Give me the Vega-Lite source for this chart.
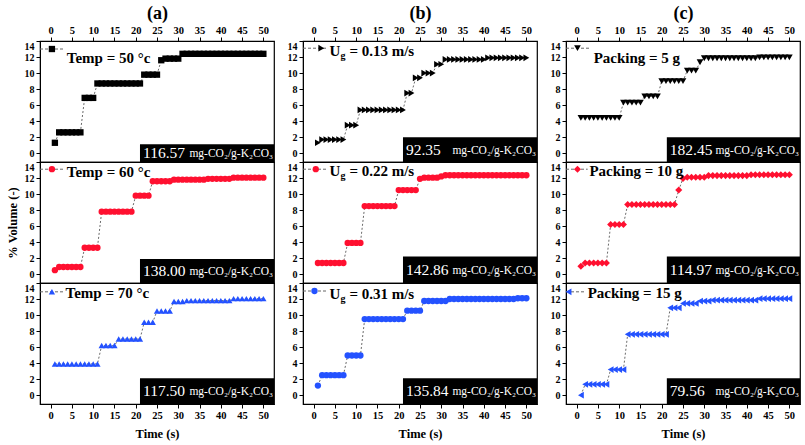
{
"$schema":"https://vega.github.io/schema/vega-lite/v6.json",
"padding":{"left":5,"top":3,"right":0,"bottom":0},
"background":"#ffffff",
"config":{"font":"Liberation Serif","view":{"stroke":"#000","strokeWidth":1.2},
"axis":{"labelFont":"Liberation Serif","labelFontWeight":"bold","labelFontSize":10.5,"labelColor":"#000","labelOverlap":false,"titleFont":"Liberation Serif","titleFontWeight":"bold","titleFontSize":12.5,"titleColor":"#000","tickColor":"#000","domainColor":"#000","grid":false,"tickSize":4,"labelPadding":2},
"axisX":{"tickCount":11},"axisY":{"tickCount":8,"labelFlush":true,"labelFontSize":10}},
"datasets":{
"a1":[{"t":1,"v":1.3},{"t":2,"v":2.6},{"t":3,"v":2.6},{"t":4,"v":2.6},{"t":5,"v":2.6},{"t":6,"v":2.6},{"t":7,"v":2.6},{"t":8,"v":6.9},{"t":9,"v":6.9},{"t":10,"v":6.9},{"t":11,"v":8.7},{"t":12,"v":8.7},{"t":13,"v":8.7},{"t":14,"v":8.7},{"t":15,"v":8.7},{"t":16,"v":8.7},{"t":17,"v":8.7},{"t":18,"v":8.7},{"t":19,"v":8.7},{"t":20,"v":8.7},{"t":21,"v":8.7},{"t":22,"v":9.8},{"t":23,"v":9.8},{"t":24,"v":9.8},{"t":25,"v":9.8},{"t":26,"v":11.6},{"t":27,"v":11.8},{"t":28,"v":11.8},{"t":29,"v":11.8},{"t":30,"v":11.8},{"t":31,"v":12.4},{"t":32,"v":12.4},{"t":33,"v":12.4},{"t":34,"v":12.4},{"t":35,"v":12.4},{"t":36,"v":12.4},{"t":37,"v":12.4},{"t":38,"v":12.4},{"t":39,"v":12.4},{"t":40,"v":12.4},{"t":41,"v":12.4},{"t":42,"v":12.4},{"t":43,"v":12.4},{"t":44,"v":12.4},{"t":45,"v":12.4},{"t":46,"v":12.4},{"t":47,"v":12.4},{"t":48,"v":12.4},{"t":49,"v":12.4},{"t":50,"v":12.4}],
"a2":[{"t":1,"v":0.5},{"t":2,"v":0.9},{"t":3,"v":0.9},{"t":4,"v":0.9},{"t":5,"v":0.9},{"t":6,"v":0.9},{"t":7,"v":0.9},{"t":8,"v":3.3},{"t":9,"v":3.3},{"t":10,"v":3.3},{"t":11,"v":3.3},{"t":12,"v":7.8},{"t":13,"v":7.8},{"t":14,"v":7.8},{"t":15,"v":7.8},{"t":16,"v":7.8},{"t":17,"v":7.8},{"t":18,"v":7.8},{"t":19,"v":7.8},{"t":20,"v":9.8},{"t":21,"v":9.8},{"t":22,"v":9.8},{"t":23,"v":9.8},{"t":24,"v":11.6},{"t":25,"v":11.6},{"t":26,"v":11.6},{"t":27,"v":11.6},{"t":28,"v":11.6},{"t":29,"v":11.8},{"t":30,"v":11.8},{"t":31,"v":11.8},{"t":32,"v":11.8},{"t":33,"v":11.8},{"t":34,"v":11.8},{"t":35,"v":11.8},{"t":36,"v":11.8},{"t":37,"v":11.9},{"t":38,"v":11.9},{"t":39,"v":11.9},{"t":40,"v":11.9},{"t":41,"v":11.9},{"t":42,"v":11.9},{"t":43,"v":12.05},{"t":44,"v":12.05},{"t":45,"v":12.05},{"t":46,"v":12.05},{"t":47,"v":12.05},{"t":48,"v":12.05},{"t":49,"v":12.05},{"t":50,"v":12.05}],
"a3":[{"t":1,"v":3.9},{"t":2,"v":3.9},{"t":3,"v":3.9},{"t":4,"v":3.9},{"t":5,"v":3.9},{"t":6,"v":3.9},{"t":7,"v":3.9},{"t":8,"v":3.9},{"t":9,"v":3.9},{"t":10,"v":3.9},{"t":11,"v":3.9},{"t":12,"v":6.2},{"t":13,"v":6.2},{"t":14,"v":6.2},{"t":15,"v":6.2},{"t":16,"v":7.0},{"t":17,"v":7.0},{"t":18,"v":7.0},{"t":19,"v":7.0},{"t":20,"v":7.0},{"t":21,"v":7.0},{"t":22,"v":9.1},{"t":23,"v":9.1},{"t":24,"v":9.1},{"t":25,"v":10.5},{"t":26,"v":10.5},{"t":27,"v":10.5},{"t":28,"v":10.5},{"t":29,"v":11.7},{"t":30,"v":11.7},{"t":31,"v":11.7},{"t":32,"v":11.8},{"t":33,"v":11.8},{"t":34,"v":11.8},{"t":35,"v":11.8},{"t":36,"v":11.8},{"t":37,"v":11.8},{"t":38,"v":11.8},{"t":39,"v":11.8},{"t":40,"v":11.8},{"t":41,"v":11.8},{"t":42,"v":11.8},{"t":43,"v":12.05},{"t":44,"v":12.05},{"t":45,"v":12.05},{"t":46,"v":12.05},{"t":47,"v":12.05},{"t":48,"v":12.05},{"t":49,"v":12.05},{"t":50,"v":12.05}],
"b1":[{"t":1,"v":1.3},{"t":2,"v":1.7},{"t":3,"v":1.7},{"t":4,"v":1.7},{"t":5,"v":1.7},{"t":6,"v":1.7},{"t":7,"v":1.7},{"t":8,"v":3.5},{"t":9,"v":3.5},{"t":10,"v":3.5},{"t":11,"v":5.4},{"t":12,"v":5.4},{"t":13,"v":5.4},{"t":14,"v":5.4},{"t":15,"v":5.4},{"t":16,"v":5.4},{"t":17,"v":5.4},{"t":18,"v":5.4},{"t":19,"v":5.4},{"t":20,"v":5.4},{"t":21,"v":5.4},{"t":22,"v":7.5},{"t":23,"v":7.5},{"t":24,"v":9.4},{"t":25,"v":9.4},{"t":26,"v":10.0},{"t":27,"v":10.0},{"t":28,"v":10.0},{"t":29,"v":11.1},{"t":30,"v":11.1},{"t":31,"v":11.7},{"t":32,"v":11.7},{"t":33,"v":11.7},{"t":34,"v":11.7},{"t":35,"v":11.7},{"t":36,"v":11.7},{"t":37,"v":11.7},{"t":38,"v":11.7},{"t":39,"v":11.7},{"t":40,"v":11.7},{"t":41,"v":11.9},{"t":42,"v":11.9},{"t":43,"v":11.9},{"t":44,"v":11.9},{"t":45,"v":11.9},{"t":46,"v":11.9},{"t":47,"v":11.9},{"t":48,"v":11.9},{"t":49,"v":11.9},{"t":50,"v":11.9}],
"b2":[{"t":1,"v":1.4},{"t":2,"v":1.4},{"t":3,"v":1.4},{"t":4,"v":1.4},{"t":5,"v":1.4},{"t":6,"v":1.4},{"t":7,"v":1.4},{"t":8,"v":3.9},{"t":9,"v":3.9},{"t":10,"v":3.9},{"t":11,"v":3.9},{"t":12,"v":8.5},{"t":13,"v":8.5},{"t":14,"v":8.5},{"t":15,"v":8.5},{"t":16,"v":8.5},{"t":17,"v":8.5},{"t":18,"v":8.5},{"t":19,"v":8.5},{"t":20,"v":10.5},{"t":21,"v":10.5},{"t":22,"v":10.5},{"t":23,"v":10.5},{"t":24,"v":10.5},{"t":25,"v":11.9},{"t":26,"v":12.05},{"t":27,"v":12.05},{"t":28,"v":12.05},{"t":29,"v":12.05},{"t":30,"v":12.2},{"t":31,"v":12.35},{"t":32,"v":12.35},{"t":33,"v":12.35},{"t":34,"v":12.35},{"t":35,"v":12.35},{"t":36,"v":12.35},{"t":37,"v":12.35},{"t":38,"v":12.35},{"t":39,"v":12.35},{"t":40,"v":12.35},{"t":41,"v":12.35},{"t":42,"v":12.35},{"t":43,"v":12.35},{"t":44,"v":12.35},{"t":45,"v":12.35},{"t":46,"v":12.35},{"t":47,"v":12.35},{"t":48,"v":12.35},{"t":49,"v":12.35},{"t":50,"v":12.35}],
"b3":[{"t":1,"v":1.2},{"t":2,"v":2.5},{"t":3,"v":2.5},{"t":4,"v":2.5},{"t":5,"v":2.5},{"t":6,"v":2.5},{"t":7,"v":2.5},{"t":8,"v":4.95},{"t":9,"v":4.95},{"t":10,"v":4.95},{"t":11,"v":4.95},{"t":12,"v":9.5},{"t":13,"v":9.5},{"t":14,"v":9.5},{"t":15,"v":9.5},{"t":16,"v":9.5},{"t":17,"v":9.5},{"t":18,"v":9.5},{"t":19,"v":9.5},{"t":20,"v":9.5},{"t":21,"v":9.5},{"t":22,"v":10.55},{"t":23,"v":10.55},{"t":24,"v":10.55},{"t":25,"v":10.55},{"t":26,"v":11.75},{"t":27,"v":11.75},{"t":28,"v":11.75},{"t":29,"v":11.75},{"t":30,"v":11.75},{"t":31,"v":11.75},{"t":32,"v":12.0},{"t":33,"v":12.0},{"t":34,"v":12.0},{"t":35,"v":12.0},{"t":36,"v":12.0},{"t":37,"v":12.0},{"t":38,"v":12.0},{"t":39,"v":12.0},{"t":40,"v":12.0},{"t":41,"v":12.0},{"t":42,"v":12.0},{"t":43,"v":12.0},{"t":44,"v":12.0},{"t":45,"v":12.0},{"t":46,"v":12.0},{"t":47,"v":12.0},{"t":48,"v":12.1},{"t":49,"v":12.1},{"t":50,"v":12.1}],
"c1":[{"t":1,"v":4.4},{"t":2,"v":4.4},{"t":3,"v":4.4},{"t":4,"v":4.4},{"t":5,"v":4.4},{"t":6,"v":4.4},{"t":7,"v":4.4},{"t":8,"v":4.4},{"t":9,"v":4.4},{"t":10,"v":4.4},{"t":11,"v":6.3},{"t":12,"v":6.3},{"t":13,"v":6.3},{"t":14,"v":6.3},{"t":15,"v":6.3},{"t":16,"v":7.1},{"t":17,"v":7.1},{"t":18,"v":7.1},{"t":19,"v":7.1},{"t":20,"v":9.0},{"t":21,"v":9.0},{"t":22,"v":9.0},{"t":23,"v":9.0},{"t":24,"v":9.0},{"t":25,"v":9.0},{"t":26,"v":10.3},{"t":27,"v":10.3},{"t":28,"v":10.3},{"t":29,"v":11.35},{"t":30,"v":11.85},{"t":31,"v":11.85},{"t":32,"v":11.85},{"t":33,"v":11.85},{"t":34,"v":11.85},{"t":35,"v":11.85},{"t":36,"v":11.85},{"t":37,"v":11.85},{"t":38,"v":11.85},{"t":39,"v":11.85},{"t":40,"v":11.85},{"t":41,"v":11.85},{"t":42,"v":11.85},{"t":43,"v":11.95},{"t":44,"v":11.95},{"t":45,"v":11.95},{"t":46,"v":11.95},{"t":47,"v":11.95},{"t":48,"v":11.95},{"t":49,"v":11.95},{"t":50,"v":11.95}],
"c2":[{"t":1,"v":1.0},{"t":2,"v":1.4},{"t":3,"v":1.4},{"t":4,"v":1.4},{"t":5,"v":1.4},{"t":6,"v":1.4},{"t":7,"v":1.4},{"t":8,"v":6.2},{"t":9,"v":6.2},{"t":10,"v":6.2},{"t":11,"v":6.2},{"t":12,"v":8.7},{"t":13,"v":8.7},{"t":14,"v":8.7},{"t":15,"v":8.7},{"t":16,"v":8.7},{"t":17,"v":8.7},{"t":18,"v":8.7},{"t":19,"v":8.7},{"t":20,"v":8.7},{"t":21,"v":8.7},{"t":22,"v":8.7},{"t":23,"v":8.7},{"t":24,"v":10.5},{"t":25,"v":11.95},{"t":26,"v":12.1},{"t":27,"v":12.1},{"t":28,"v":12.1},{"t":29,"v":12.1},{"t":30,"v":12.1},{"t":31,"v":12.3},{"t":32,"v":12.3},{"t":33,"v":12.3},{"t":34,"v":12.3},{"t":35,"v":12.3},{"t":36,"v":12.3},{"t":37,"v":12.3},{"t":38,"v":12.3},{"t":39,"v":12.3},{"t":40,"v":12.3},{"t":41,"v":12.4},{"t":42,"v":12.4},{"t":43,"v":12.4},{"t":44,"v":12.4},{"t":45,"v":12.4},{"t":46,"v":12.4},{"t":47,"v":12.4},{"t":48,"v":12.4},{"t":49,"v":12.4},{"t":50,"v":12.4}],
"c3":[{"t":1,"v":0.0},{"t":2,"v":1.35},{"t":3,"v":1.35},{"t":4,"v":1.35},{"t":5,"v":1.35},{"t":6,"v":1.35},{"t":7,"v":1.35},{"t":8,"v":3.2},{"t":9,"v":3.2},{"t":10,"v":3.2},{"t":11,"v":3.2},{"t":12,"v":7.6},{"t":13,"v":7.6},{"t":14,"v":7.6},{"t":15,"v":7.6},{"t":16,"v":7.6},{"t":17,"v":7.6},{"t":18,"v":7.6},{"t":19,"v":7.6},{"t":20,"v":7.6},{"t":21,"v":7.6},{"t":22,"v":10.9},{"t":23,"v":10.9},{"t":24,"v":10.9},{"t":25,"v":11.45},{"t":26,"v":11.45},{"t":27,"v":11.45},{"t":28,"v":11.45},{"t":29,"v":11.75},{"t":30,"v":11.75},{"t":31,"v":11.75},{"t":32,"v":11.85},{"t":33,"v":11.85},{"t":34,"v":11.85},{"t":35,"v":11.85},{"t":36,"v":11.85},{"t":37,"v":11.85},{"t":38,"v":11.85},{"t":39,"v":11.85},{"t":40,"v":11.85},{"t":41,"v":11.85},{"t":42,"v":11.85},{"t":43,"v":12.05},{"t":44,"v":12.05},{"t":45,"v":12.05},{"t":46,"v":12.05},{"t":47,"v":12.05},{"t":48,"v":12.05},{"t":49,"v":12.05},{"t":50,"v":12.05}],
"ka1":[{"cap":"116.57","unit":"mg-CO₂/g-K₂CO₃","lab":"Temp = 50 °c"}],
"ka2":[{"cap":"138.00","unit":"mg-CO₂/g-K₂CO₃","lab":"Temp = 60 °c"}],
"ka3":[{"cap":"117.50","unit":"mg-CO₂/g-K₂CO₃","lab":"Temp = 70 °c"}],
"kb1":[{"cap":"92.35","unit":"mg-CO₂/g-K₂CO₃","lab":"U","sub":"g","rest":"= 0.13 m/s"}],
"kb2":[{"cap":"142.86","unit":"mg-CO₂/g-K₂CO₃","lab":"U","sub":"g","rest":"= 0.22 m/s"}],
"kb3":[{"cap":"135.84","unit":"mg-CO₂/g-K₂CO₃","lab":"U","sub":"g","rest":"= 0.31 m/s"}],
"kc1":[{"cap":"182.45","unit":"mg-CO₂/g-K₂CO₃","lab":"Packing = 5 g"}],
"kc2":[{"cap":"114.97","unit":"mg-CO₂/g-K₂CO₃","lab":"Packing = 10 g"}],
"kc3":[{"cap":"79.56","unit":"mg-CO₂/g-K₂CO₃","lab":"Packing = 15 g"}]
},
"hconcat":[
{"vconcat":[
{"width":234,"height":121,"layer":[
{"data":{"name":"a1"},"mark":{"type":"line","strokeDash":[2,2],"strokeWidth":0.8,"color":"#444"},"encoding":{"x":{"field":"t","type":"quantitative","scale":{"domain":[-2.5,52.5],"nice":false,"zero":false},"axis":{"orient":"top","title":"(a)","titleFontSize":18,"titlePadding":3}},"y":{"field":"v","type":"quantitative","scale":{"domain":[-1.1,14],"nice":false,"zero":false},"axis":{"title":null}}}},
{"data":{"name":"a1"},"mark":{"type":"point","filled":true,"shape":"square","size":40,"color":"#000","opacity":1},"encoding":{"x":{"field":"t","type":"quantitative"},"y":{"field":"v","type":"quantitative"}}},
{"data":{"name":"ka1"},"mark":{"type":"rect","color":"#000"},"encoding":{"x":{"datum":21},"x2":{"datum":52.5},"y":{"datum":-1.1},"y2":{"datum":1.1}}},
{"data":{"name":"ka1"},"mark":{"type":"text","align":"left","baseline":"middle","color":"#fff","fontSize":15.5,"dx":3},"encoding":{"x":{"datum":21},"y":{"datum":0.0},"text":{"field":"cap"}}},
{"data":{"name":"ka1"},"mark":{"type":"text","align":"right","baseline":"middle","color":"#fff","fontSize":11.5,"dx":-1,"dy":1},"encoding":{"x":{"datum":52.5},"y":{"datum":0.0},"text":{"field":"unit"}}},
{"data":{"name":"ka1"},"mark":{"type":"rule","color":"#666","strokeDash":[3,2],"strokeWidth":1},"encoding":{"x":{"datum":-2.5},"x2":{"datum":3},"y":{"datum":13}}},
{"data":{"name":"ka1"},"mark":{"type":"point","filled":true,"shape":"square","size":40,"color":"#000","opacity":1},"encoding":{"x":{"datum":0.3},"y":{"datum":13}}},
{"data":{"name":"ka1"},"mark":{"type":"text","align":"left","baseline":"middle","fontSize":15,"fontWeight":"bold","color":"#000"},"encoding":{"x":{"datum":3.8},"y":{"datum":11.9},"text":{"field":"lab"}}}
]},
{"width":234,"height":121,"layer":[
{"data":{"name":"a2"},"mark":{"type":"line","strokeDash":[2,2],"strokeWidth":0.8,"color":"#444"},"encoding":{"x":{"field":"t","type":"quantitative","scale":{"domain":[-2.5,52.5],"nice":false,"zero":false},"axis":null},"y":{"field":"v","type":"quantitative","scale":{"domain":[-1.1,14],"nice":false,"zero":false},"axis":{"title":"% Volume (-)","titlePadding":5}}}},
{"data":{"name":"a2"},"mark":{"type":"point","filled":true,"shape":"circle","size":40,"color":"#ff1030","opacity":1},"encoding":{"x":{"field":"t","type":"quantitative"},"y":{"field":"v","type":"quantitative"}}},
{"data":{"name":"ka2"},"mark":{"type":"rect","color":"#000"},"encoding":{"x":{"datum":21},"x2":{"datum":52.5},"y":{"datum":-1.1},"y2":{"datum":1.9}}},
{"data":{"name":"ka2"},"mark":{"type":"text","align":"left","baseline":"middle","color":"#fff","fontSize":15.5,"dx":3},"encoding":{"x":{"datum":21},"y":{"datum":0.4},"text":{"field":"cap"}}},
{"data":{"name":"ka2"},"mark":{"type":"text","align":"right","baseline":"middle","color":"#fff","fontSize":11.5,"dx":-1,"dy":1},"encoding":{"x":{"datum":52.5},"y":{"datum":0.4},"text":{"field":"unit"}}},
{"data":{"name":"ka2"},"mark":{"type":"rule","color":"#666","strokeDash":[3,2],"strokeWidth":1},"encoding":{"x":{"datum":-2.5},"x2":{"datum":3},"y":{"datum":13.1}}},
{"data":{"name":"ka2"},"mark":{"type":"point","filled":true,"shape":"circle","size":40,"color":"#ff1030","opacity":1},"encoding":{"x":{"datum":0.3},"y":{"datum":13.1}}},
{"data":{"name":"ka2"},"mark":{"type":"text","align":"left","baseline":"middle","fontSize":15,"fontWeight":"bold","color":"#000"},"encoding":{"x":{"datum":3.8},"y":{"datum":12.8},"text":{"field":"lab"}}}
]},
{"width":234,"height":121,"layer":[
{"data":{"name":"a3"},"mark":{"type":"line","strokeDash":[2,2],"strokeWidth":0.8,"color":"#444"},"encoding":{"x":{"field":"t","type":"quantitative","scale":{"domain":[-2.5,52.5],"nice":false,"zero":false},"axis":{"orient":"bottom","title":"Time (s)","titlePadding":7}},"y":{"field":"v","type":"quantitative","scale":{"domain":[-1.1,14],"nice":false,"zero":false},"axis":{"title":null}}}},
{"data":{"name":"a3"},"mark":{"type":"point","filled":true,"shape":"triangle-up","size":40,"color":"#2452ff","opacity":1},"encoding":{"x":{"field":"t","type":"quantitative"},"y":{"field":"v","type":"quantitative"}}},
{"data":{"name":"ka3"},"mark":{"type":"rect","color":"#000"},"encoding":{"x":{"datum":21},"x2":{"datum":52.5},"y":{"datum":-1.1},"y2":{"datum":2.1}}},
{"data":{"name":"ka3"},"mark":{"type":"text","align":"left","baseline":"middle","color":"#fff","fontSize":15.5,"dx":3},"encoding":{"x":{"datum":21},"y":{"datum":0.5},"text":{"field":"cap"}}},
{"data":{"name":"ka3"},"mark":{"type":"text","align":"right","baseline":"middle","color":"#fff","fontSize":11.5,"dx":-1,"dy":1},"encoding":{"x":{"datum":52.5},"y":{"datum":0.5},"text":{"field":"unit"}}},
{"data":{"name":"ka3"},"mark":{"type":"rule","color":"#666","strokeDash":[3,2],"strokeWidth":1},"encoding":{"x":{"datum":-2.5},"x2":{"datum":3},"y":{"datum":12.9}}},
{"data":{"name":"ka3"},"mark":{"type":"point","filled":true,"shape":"triangle-up","size":40,"color":"#2452ff","opacity":1},"encoding":{"x":{"datum":0.3},"y":{"datum":12.9}}},
{"data":{"name":"ka3"},"mark":{"type":"text","align":"left","baseline":"middle","fontSize":15,"fontWeight":"bold","color":"#000"},"encoding":{"x":{"datum":3.5},"y":{"datum":12.75},"text":{"field":"lab"}}}
]}
],"spacing":0,"bounds":"flush"},
{"vconcat":[
{"width":234,"height":121,"layer":[
{"data":{"name":"b1"},"mark":{"type":"line","strokeDash":[2,2],"strokeWidth":0.8,"color":"#444"},"encoding":{"x":{"field":"t","type":"quantitative","scale":{"domain":[-2.5,52.5],"nice":false,"zero":false},"axis":{"orient":"top","title":"(b)","titleFontSize":18,"titlePadding":3}},"y":{"field":"v","type":"quantitative","scale":{"domain":[-1.1,14],"nice":false,"zero":false},"axis":{"title":null}}}},
{"data":{"name":"b1"},"mark":{"type":"point","filled":true,"shape":"triangle-right","size":45,"color":"#000","opacity":1},"encoding":{"x":{"field":"t","type":"quantitative"},"y":{"field":"v","type":"quantitative"}}},
{"data":{"name":"kb1"},"mark":{"type":"rect","color":"#000"},"encoding":{"x":{"datum":21},"x2":{"datum":52.5},"y":{"datum":-1.1},"y2":{"datum":2.0}}},
{"data":{"name":"kb1"},"mark":{"type":"text","align":"left","baseline":"middle","color":"#fff","fontSize":15.5,"dx":3},"encoding":{"x":{"datum":21},"y":{"datum":0.45},"text":{"field":"cap"}}},
{"data":{"name":"kb1"},"mark":{"type":"text","align":"right","baseline":"middle","color":"#fff","fontSize":11.5,"dx":-1,"dy":1},"encoding":{"x":{"datum":52.5},"y":{"datum":0.45},"text":{"field":"unit"}}},
{"data":{"name":"kb1"},"mark":{"type":"rule","color":"#666","strokeDash":[3,2],"strokeWidth":1},"encoding":{"x":{"datum":-2.5},"x2":{"datum":3},"y":{"datum":13.1}}},
{"data":{"name":"kb1"},"mark":{"type":"point","filled":true,"shape":"triangle-right","size":45,"color":"#000","opacity":1},"encoding":{"x":{"datum":1.8},"y":{"datum":13.1}}},
{"data":{"name":"kb1"},"mark":{"type":"text","align":"left","baseline":"middle","fontSize":15,"fontWeight":"bold","color":"#000"},"encoding":{"x":{"datum":3.7},"y":{"datum":12.7},"text":{"field":"lab"}}},
{"data":{"name":"kb1"},"mark":{"type":"text","align":"left","baseline":"middle","fontSize":10,"fontWeight":"bold","color":"#000","dx":11,"dy":5},"encoding":{"x":{"datum":3.7},"y":{"datum":12.7},"text":{"field":"sub"}}},
{"data":{"name":"kb1"},"mark":{"type":"text","align":"left","baseline":"middle","fontSize":15,"fontWeight":"bold","color":"#000","dx":20},"encoding":{"x":{"datum":3.7},"y":{"datum":12.7},"text":{"field":"rest"}}}
]},
{"width":234,"height":121,"layer":[
{"data":{"name":"b2"},"mark":{"type":"line","strokeDash":[2,2],"strokeWidth":0.8,"color":"#444"},"encoding":{"x":{"field":"t","type":"quantitative","scale":{"domain":[-2.5,52.5],"nice":false,"zero":false},"axis":null},"y":{"field":"v","type":"quantitative","scale":{"domain":[-1.1,14],"nice":false,"zero":false},"axis":{"title":null}}}},
{"data":{"name":"b2"},"mark":{"type":"point","filled":true,"shape":"circle","size":40,"color":"#ff1030","opacity":1},"encoding":{"x":{"field":"t","type":"quantitative"},"y":{"field":"v","type":"quantitative"}}},
{"data":{"name":"kb2"},"mark":{"type":"rect","color":"#000"},"encoding":{"x":{"datum":21},"x2":{"datum":52.5},"y":{"datum":-1.1},"y2":{"datum":2.2}}},
{"data":{"name":"kb2"},"mark":{"type":"text","align":"left","baseline":"middle","color":"#fff","fontSize":15.5,"dx":3},"encoding":{"x":{"datum":21},"y":{"datum":0.55},"text":{"field":"cap"}}},
{"data":{"name":"kb2"},"mark":{"type":"text","align":"right","baseline":"middle","color":"#fff","fontSize":11.5,"dx":-1,"dy":1},"encoding":{"x":{"datum":52.5},"y":{"datum":0.55},"text":{"field":"unit"}}},
{"data":{"name":"kb2"},"mark":{"type":"rule","color":"#666","strokeDash":[3,2],"strokeWidth":1},"encoding":{"x":{"datum":-2.5},"x2":{"datum":3},"y":{"datum":13.1}}},
{"data":{"name":"kb2"},"mark":{"type":"point","filled":true,"shape":"circle","size":40,"color":"#ff1030","opacity":1},"encoding":{"x":{"datum":0.5},"y":{"datum":13.1}}},
{"data":{"name":"kb2"},"mark":{"type":"text","align":"left","baseline":"middle","fontSize":15,"fontWeight":"bold","color":"#000"},"encoding":{"x":{"datum":3.7},"y":{"datum":12.9},"text":{"field":"lab"}}},
{"data":{"name":"kb2"},"mark":{"type":"text","align":"left","baseline":"middle","fontSize":10,"fontWeight":"bold","color":"#000","dx":11,"dy":5},"encoding":{"x":{"datum":3.7},"y":{"datum":12.9},"text":{"field":"sub"}}},
{"data":{"name":"kb2"},"mark":{"type":"text","align":"left","baseline":"middle","fontSize":15,"fontWeight":"bold","color":"#000","dx":20},"encoding":{"x":{"datum":3.7},"y":{"datum":12.9},"text":{"field":"rest"}}}
]},
{"width":234,"height":121,"layer":[
{"data":{"name":"b3"},"mark":{"type":"line","strokeDash":[2,2],"strokeWidth":0.8,"color":"#444"},"encoding":{"x":{"field":"t","type":"quantitative","scale":{"domain":[-2.5,52.5],"nice":false,"zero":false},"axis":{"orient":"bottom","title":"Time (s)","titlePadding":7}},"y":{"field":"v","type":"quantitative","scale":{"domain":[-1.1,14],"nice":false,"zero":false},"axis":{"title":null}}}},
{"data":{"name":"b3"},"mark":{"type":"point","filled":true,"shape":"circle","size":40,"color":"#2452ff","opacity":1},"encoding":{"x":{"field":"t","type":"quantitative"},"y":{"field":"v","type":"quantitative"}}},
{"data":{"name":"kb3"},"mark":{"type":"rect","color":"#000"},"encoding":{"x":{"datum":21},"x2":{"datum":52.5},"y":{"datum":-1.1},"y2":{"datum":2.1}}},
{"data":{"name":"kb3"},"mark":{"type":"text","align":"left","baseline":"middle","color":"#fff","fontSize":15.5,"dx":3},"encoding":{"x":{"datum":21},"y":{"datum":0.5},"text":{"field":"cap"}}},
{"data":{"name":"kb3"},"mark":{"type":"text","align":"right","baseline":"middle","color":"#fff","fontSize":11.5,"dx":-1,"dy":1},"encoding":{"x":{"datum":52.5},"y":{"datum":0.5},"text":{"field":"unit"}}},
{"data":{"name":"kb3"},"mark":{"type":"rule","color":"#666","strokeDash":[3,2],"strokeWidth":1},"encoding":{"x":{"datum":-2.5},"x2":{"datum":3},"y":{"datum":13}}},
{"data":{"name":"kb3"},"mark":{"type":"point","filled":true,"shape":"circle","size":40,"color":"#2452ff","opacity":1},"encoding":{"x":{"datum":0.2},"y":{"datum":13}}},
{"data":{"name":"kb3"},"mark":{"type":"text","align":"left","baseline":"middle","fontSize":15,"fontWeight":"bold","color":"#000"},"encoding":{"x":{"datum":3.7},"y":{"datum":12.6},"text":{"field":"lab"}}},
{"data":{"name":"kb3"},"mark":{"type":"text","align":"left","baseline":"middle","fontSize":10,"fontWeight":"bold","color":"#000","dx":11,"dy":5},"encoding":{"x":{"datum":3.7},"y":{"datum":12.6},"text":{"field":"sub"}}},
{"data":{"name":"kb3"},"mark":{"type":"text","align":"left","baseline":"middle","fontSize":15,"fontWeight":"bold","color":"#000","dx":20},"encoding":{"x":{"datum":3.7},"y":{"datum":12.6},"text":{"field":"rest"}}}
]}
],"spacing":0,"bounds":"flush"},
{"vconcat":[
{"width":234,"height":121,"layer":[
{"data":{"name":"c1"},"mark":{"type":"line","strokeDash":[2,2],"strokeWidth":0.8,"color":"#444"},"encoding":{"x":{"field":"t","type":"quantitative","scale":{"domain":[-2.5,52.5],"nice":false,"zero":false},"axis":{"orient":"top","title":"(c)","titleFontSize":18,"titlePadding":3}},"y":{"field":"v","type":"quantitative","scale":{"domain":[-1.1,14],"nice":false,"zero":false},"axis":{"title":null}}}},
{"data":{"name":"c1"},"mark":{"type":"point","filled":true,"shape":"triangle-down","size":45,"color":"#000","opacity":1},"encoding":{"x":{"field":"t","type":"quantitative"},"y":{"field":"v","type":"quantitative"}}},
{"data":{"name":"kc1"},"mark":{"type":"rect","color":"#000"},"encoding":{"x":{"datum":21.2},"x2":{"datum":52.5},"y":{"datum":-1.1},"y2":{"datum":2.0}}},
{"data":{"name":"kc1"},"mark":{"type":"text","align":"left","baseline":"middle","color":"#fff","fontSize":15.5,"dx":3},"encoding":{"x":{"datum":21.2},"y":{"datum":0.45},"text":{"field":"cap"}}},
{"data":{"name":"kc1"},"mark":{"type":"text","align":"right","baseline":"middle","color":"#fff","fontSize":11.5,"dx":-1,"dy":1},"encoding":{"x":{"datum":52.5},"y":{"datum":0.45},"text":{"field":"unit"}}},
{"data":{"name":"kc1"},"mark":{"type":"rule","color":"#666","strokeDash":[3,2],"strokeWidth":1},"encoding":{"x":{"datum":-2.5},"x2":{"datum":3.2},"y":{"datum":13.1}}},
{"data":{"name":"kc1"},"mark":{"type":"point","filled":true,"shape":"triangle-down","size":45,"color":"#000","opacity":1},"encoding":{"x":{"datum":0.2},"y":{"datum":13.1}}},
{"data":{"name":"kc1"},"mark":{"type":"text","align":"left","baseline":"middle","fontSize":15,"fontWeight":"bold","color":"#000"},"encoding":{"x":{"datum":4.0},"y":{"datum":11.9},"text":{"field":"lab"}}}
]},
{"width":234,"height":121,"layer":[
{"data":{"name":"c2"},"mark":{"type":"line","strokeDash":[2,2],"strokeWidth":0.8,"color":"#444"},"encoding":{"x":{"field":"t","type":"quantitative","scale":{"domain":[-2.5,52.5],"nice":false,"zero":false},"axis":null},"y":{"field":"v","type":"quantitative","scale":{"domain":[-1.1,14],"nice":false,"zero":false},"axis":{"title":null}}}},
{"data":{"name":"c2"},"mark":{"type":"point","filled":true,"shape":"diamond","size":50,"color":"#ff1030","opacity":1},"encoding":{"x":{"field":"t","type":"quantitative"},"y":{"field":"v","type":"quantitative"}}},
{"data":{"name":"kc2"},"mark":{"type":"rect","color":"#000"},"encoding":{"x":{"datum":21.2},"x2":{"datum":52.5},"y":{"datum":-1.1},"y2":{"datum":2.2}}},
{"data":{"name":"kc2"},"mark":{"type":"text","align":"left","baseline":"middle","color":"#fff","fontSize":15.5,"dx":3},"encoding":{"x":{"datum":21.2},"y":{"datum":0.55},"text":{"field":"cap"}}},
{"data":{"name":"kc2"},"mark":{"type":"text","align":"right","baseline":"middle","color":"#fff","fontSize":11.5,"dx":-1,"dy":1},"encoding":{"x":{"datum":52.5},"y":{"datum":0.55},"text":{"field":"unit"}}},
{"data":{"name":"kc2"},"mark":{"type":"rule","color":"#666","strokeDash":[3,2],"strokeWidth":1},"encoding":{"x":{"datum":-2.5},"x2":{"datum":2.6},"y":{"datum":13.1}}},
{"data":{"name":"kc2"},"mark":{"type":"point","filled":true,"shape":"diamond","size":50,"color":"#ff1030","opacity":1},"encoding":{"x":{"datum":0.2},"y":{"datum":13.1}}},
{"data":{"name":"kc2"},"mark":{"type":"text","align":"left","baseline":"middle","fontSize":15,"fontWeight":"bold","color":"#000"},"encoding":{"x":{"datum":3.0},"y":{"datum":12.9},"text":{"field":"lab"}}}
]},
{"width":234,"height":121,"layer":[
{"data":{"name":"c3"},"mark":{"type":"line","strokeDash":[2,2],"strokeWidth":0.8,"color":"#444"},"encoding":{"x":{"field":"t","type":"quantitative","scale":{"domain":[-2.5,52.5],"nice":false,"zero":false},"axis":{"orient":"bottom","title":"Time (s)","titlePadding":7}},"y":{"field":"v","type":"quantitative","scale":{"domain":[-1.1,14],"nice":false,"zero":false},"axis":{"title":null}}}},
{"data":{"name":"c3"},"mark":{"type":"point","filled":true,"shape":"triangle-left","size":45,"color":"#2452ff","opacity":1},"encoding":{"x":{"field":"t","type":"quantitative"},"y":{"field":"v","type":"quantitative"}}},
{"data":{"name":"kc3"},"mark":{"type":"rect","color":"#000"},"encoding":{"x":{"datum":21.2},"x2":{"datum":52.5},"y":{"datum":-1.1},"y2":{"datum":2.1}}},
{"data":{"name":"kc3"},"mark":{"type":"text","align":"left","baseline":"middle","color":"#fff","fontSize":15.5,"dx":3},"encoding":{"x":{"datum":21.2},"y":{"datum":0.5},"text":{"field":"cap"}}},
{"data":{"name":"kc3"},"mark":{"type":"text","align":"right","baseline":"middle","color":"#fff","fontSize":11.5,"dx":-1,"dy":1},"encoding":{"x":{"datum":52.5},"y":{"datum":0.5},"text":{"field":"unit"}}},
{"data":{"name":"kc3"},"mark":{"type":"rule","color":"#666","strokeDash":[3,2],"strokeWidth":1},"encoding":{"x":{"datum":-2.5},"x2":{"datum":2.2},"y":{"datum":12.9}}},
{"data":{"name":"kc3"},"mark":{"type":"point","filled":true,"shape":"triangle-left","size":45,"color":"#2452ff","opacity":1},"encoding":{"x":{"datum":-1.9},"y":{"datum":12.9}}},
{"data":{"name":"kc3"},"mark":{"type":"text","align":"left","baseline":"middle","fontSize":15,"fontWeight":"bold","color":"#000"},"encoding":{"x":{"datum":2.6},"y":{"datum":12.8},"text":{"field":"lab"}}}
]}
],"spacing":0,"bounds":"flush"}
],"spacing":11
}
